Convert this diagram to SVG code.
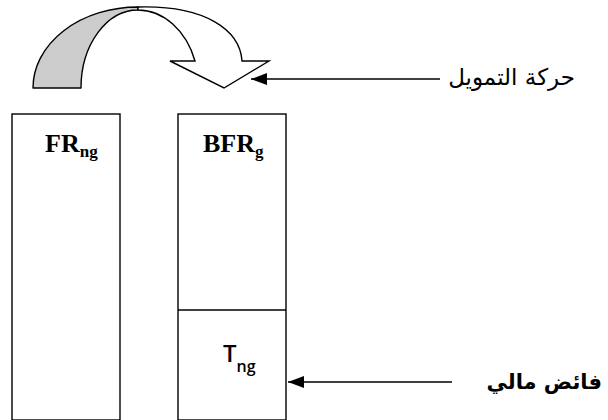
<svg xmlns="http://www.w3.org/2000/svg" width="608" height="420" viewBox="0 0 608 420">
<style>
.box{fill:#fff;stroke:#000;stroke-width:1.4}
.ln{stroke:#000;stroke-width:1.6;fill:none}
.lbl{font-family:"Liberation Serif",serif;font-weight:bold;fill:#000}
.ar{font-family:"DejaVu Sans",sans-serif;fill:#000}
</style>
<defs>
<marker id="ah" markerWidth="16" markerHeight="12" refX="16" refY="6" orient="auto" markerUnits="userSpaceOnUse">
<path d="M0,0 L16,6 L0,12 Z" fill="#000"/>
</marker>
</defs>
<g id="curved-arrow">
<path d="M33,88 A105,81 0 0 1 138,7 L138,10 A57,78 0 0 0 81,88 Z" fill="#ccc" stroke="#000" stroke-width="1.4" stroke-linejoin="round"/>
<path d="M138,7 C205,5 240,30 242,61 L269,61 L224,88 L170,61 L195,61 A61,78 0 0 0 138,10 Z" fill="#fff" stroke="#000" stroke-width="1.4"/>
</g>
<g id="box-left">
<rect class="box" x="12" y="114" width="108" height="306"/>
<text class="lbl" x="45" y="152" font-size="26">FR<tspan font-size="17" dy="5">ng</tspan></text>
</g>
<g id="box-right">
<rect class="box" x="178" y="114" width="108" height="306"/>
<line class="ln" x1="178" y1="310" x2="286" y2="310" stroke-width="1.4"/>
<text class="lbl" x="203" y="152" font-size="26">BFR<tspan font-size="17" dy="5">g</tspan></text>
<text x="223" y="362" font-family="'Open Sans',sans-serif" font-weight="600" font-size="24" fill="#000">T<tspan font-size="16" dy="10">ng</tspan></text>
</g>
<g id="connectors">
<line class="ln" x1="440" y1="79" x2="251" y2="79" marker-end="url(#ah)"/>
<line class="ln" x1="452" y1="382" x2="288" y2="382" marker-end="url(#ah)"/>
</g>
<g id="label-financing">
<text class="ar" x="575" y="85" font-size="23" text-anchor="end">حركة التمويل</text>
</g>
<g id="label-surplus">
<text class="ar" x="602" y="389" font-size="21" font-weight="bold" text-anchor="end">فائض مالي</text>
</g>
</svg>
